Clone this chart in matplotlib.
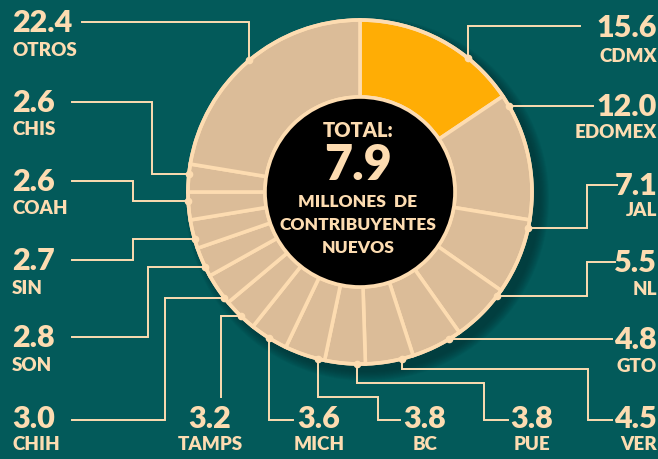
import matplotlib
matplotlib.use("Agg")
import matplotlib.pyplot as plt
from matplotlib.patches import Circle
import numpy as np

# data (clockwise from the top)
states = ["CDMX", "EDOMEX", "JAL", "NL", "GTO", "VER", "PUE", "BC",
          "MICH", "TAMPS", "CHIH", "SON", "SIN", "COAH", "CHIS", "OTROS"]
shares = [15.6, 12.0, 7.1, 5.5, 4.8, 4.5, 3.8, 3.8,
          3.6, 3.2, 3.0, 2.8, 2.7, 2.6, 2.6, 22.4]
total_label = "7.9"

# layout (pixel coords, y down)
BG = "#035a5a"
TAN = "#dbbc98"
PEACH = "#fddcb1"
ORANGE = "#ffad05"
CX, CY, R_OUT, R_IN = 360, 193, 172, 95
FONT = dict(family=["Lato", "DejaVu Sans"], fontweight="heavy", color=PEACH)

# anchor angle on the ring (deg clockwise from top), leader path, label spot/alignment
dot_ang = [39, 60, 102, 127, 149, 166, 181, 194, 212, 224, 232, 244, 254, 267, 276, 320]
paths = [
    [("v", 27), ("h", 580)],
    [("h", 593)],
    [("h", 587), ("v", 186), ("h", 617)],
    [("h", 587), ("v", 263), ("h", 615)],
    [("h", 612)],
    [("v", 370), ("h", 588), ("v", 421), ("h", 612)],
    [("v", 384), ("h", 484), ("v", 421), ("h", 508)],
    [("v", 398), ("h", 378), ("v", 421), ("h", 400)],
    [("v", 421), ("h", 293)],
    [("h", 221), ("v", 398)],
    [("h", 165), ("v", 421), ("h", 72)],
    [("h", 148), ("v", 338), ("h", 72)],
    [("h", 133), ("v", 261), ("h", 72)],
    [("h", 133), ("v", 182), ("h", 72)],
    [("h", 152), ("v", 103), ("h", 72)],
    [("v", 23), ("h", 82)],
]
labels_xy = [
    (657, 28, 57, "right"), (657, 107, 133, "right"), (657, 186, 211, "right"),
    (657, 263, 290, "right"), (657, 340, 367, "right"), (657, 419, 445, "right"),
    (532, 419, 445, "center"), (425, 419, 445, "center"), (319, 419, 445, "center"),
    (210, 419, 445, "center"), (12, 419, 445, "left"), (12, 338, 366, "left"),
    (12, 261, 289, "left"), (12, 182, 209, "left"), (12, 103, 130, "left"),
    (12, 23, 50, "left"),
]

fig = plt.figure(figsize=(6.58, 4.60), dpi=100, facecolor=BG)
ax = fig.add_axes([0, 0, 1, 1])
ax.set_facecolor(BG)

# soft shadow to the lower right
for k in range(10):
    ax.add_patch(Circle((CX + 7, CY + 7), R_OUT + 10 - k, color="#012f30",
                        alpha=0.08, lw=0, zorder=1))

colors = [ORANGE] + [TAN] * (len(shares) - 1)
# y axis is inverted below, so counterclock=True runs clockwise on screen
ax.pie(shares, colors=colors, startangle=-90, counterclock=True,
       center=(CX, CY), radius=R_OUT, frame=True,
       wedgeprops=dict(width=R_OUT - R_IN, edgecolor=PEACH, linewidth=2.6, zorder=2))
ax.set_xlim(0, 658)
ax.set_ylim(460, 0)
ax.set_aspect("equal")
ax.axis("off")
ax.add_patch(Circle((CX, CY), R_OUT, fill=False, ec=PEACH, lw=2.6, zorder=3))
ax.add_patch(Circle((CX, CY), R_IN, fc="black", ec=PEACH, lw=2.6, zorder=3))

# leader lines
for ang, path in zip(dot_ang, paths):
    t = np.deg2rad(ang)
    x, y = CX + R_OUT * np.sin(t), CY - R_OUT * np.cos(t)
    xs, ys = [x], [y]
    for kind, v in path:
        if kind == "h":
            x = v
        else:
            y = v
        xs.append(x)
        ys.append(y)
    ax.plot(xs, ys, color=PEACH, lw=1.4, zorder=4, solid_joinstyle="miter")
    ax.plot(xs[0], ys[0], "o", color=PEACH, ms=4.5, zorder=5)

# labels
for name, val, (lx, ny, sy, ha) in zip(states, shares, labels_xy):
    ax.text(lx, ny, f"{val:.1f}", fontsize=22, ha=ha, va="center", zorder=6, **FONT)
    ax.text(lx, sy, name, fontsize=13.5, ha=ha, va="center", zorder=6, **FONT)

# centre text
ax.text(CX - 2, 131, "TOTAL:", fontsize=14.5, ha="center", va="center", zorder=6, **FONT)
ax.text(CX - 2, 166, total_label, fontsize=35, ha="center", va="center", zorder=6, **FONT)
for yy, line in [(202, "MILLONES  DE"), (225, "CONTRIBUYENTES"), (248, "NUEVOS")]:
    ax.text(CX - 2, yy, line, fontsize=12.5, ha="center", va="center", zorder=6, **FONT)

fig.savefig("out.png", dpi=100, facecolor=BG)
